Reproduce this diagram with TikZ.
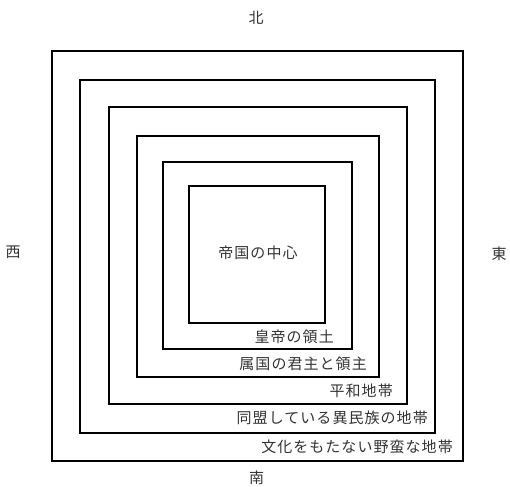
\documentclass[tikz,border=0pt]{standalone}
\usepackage{fontspec}
\setmainfont{Noto Sans CJK JP}[LetterSpace=7]
\begin{document}
\begin{tikzpicture}[x=1pt,y=-1pt,
  ring/.style={draw=black,line width=1.3pt},
  lbl/.style={text=black!80,font=\fontsize{15}{15}\selectfont,inner sep=0pt},
]
\useasboundingbox (0,0) rectangle (510,486);
\draw[ring] (52,51) rectangle (463,461);
\draw[ring] (80,80) rectangle (435,433);
\draw[ring] (109,107) rectangle (407,404);
\draw[ring] (137,136) rectangle (379,377);
\draw[ring] (163,162) rectangle (352,349);
\draw[ring] (189,186) rectangle (325,323);
\node[lbl] (center) at (258,253) {帝国の中心};
\node[lbl,anchor=east] (l1) at (334,337) {皇帝の領土};
\node[lbl,anchor=east] (l2) at (367,364) {属国の君主と領主};
\node[lbl,anchor=east] (l3) at (393,391) {平和地帯};
\node[lbl,anchor=east] (l4) at (428,418) {同盟している異民族の地帯};
\node[lbl,anchor=east] (l5) at (453,447) {文化をもたない野蛮な地帯};
\node[lbl] (n) at (256,18) {北};
\node[lbl] (s) at (256.5,478) {南};
\node[lbl] (w) at (13,252) {西};
\node[lbl] (e) at (499,254) {東};
\end{tikzpicture}
\end{document}
